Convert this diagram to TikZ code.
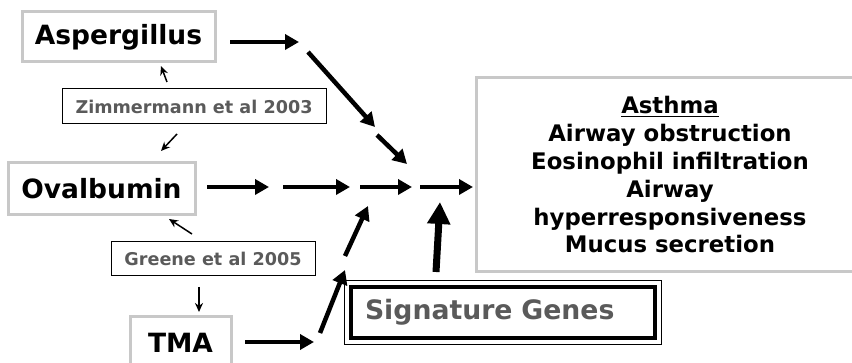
\documentclass[tikz,border=0pt]{standalone}
\usepackage{fontspec}
\setmainfont{DejaVu Sans}
\usetikzlibrary{arrows.meta}
\definecolor{boxgray}{HTML}{C8C8C8}
\definecolor{txtgray}{HTML}{5A5A5A}
\tikzset{
  agent/.style={draw=boxgray,line width=3pt,inner sep=0pt,font=\fontsize{26.5}{30}\selectfont\bfseries},
  refbox/.style={draw=black,line width=1pt,inner sep=0pt,text=txtgray,font=\fontsize{17.6}{20}\selectfont\bfseries},
  bigarrow/.style={line width=4.5pt,-{Triangle[length=14pt,width=15pt]}},
  hugearrow/.style={line width=7pt,-{Triangle[length=22pt,width=22pt]}},
  thinarrow/.style={line width=1.5pt,-{Stealth[length=9pt,width=8pt]}}
}
\begin{document}
\begin{tikzpicture}[x=1pt,y=-1pt]
	\useasboundingbox (0,0) rectangle (852,363);
	% sources
	\node[agent,minimum width=193,minimum height=50] (asp) at (118.5,37) {Aspergillus};
	\node[agent,minimum width=187,minimum height=52] (ova) at (101.5,189) {Ovalbumin};
	\node[agent,minimum width=101,minimum height=52] (tma) at (180.5,343) {TMA};
	% references
	\node[refbox,minimum width=264,minimum height=35] (zim) at (194,106.5) {Zimmermann et al 2003};
	\node[refbox,minimum width=204,minimum height=34] (gre) at (213,259) {Greene et al 2005};
	% outcome
	\node[draw=boxgray,line width=3pt,minimum width=388,minimum height=194,align=center,
		font=\fontsize{22.8}{27.8}\selectfont\bfseries] (asthma) at (670,175)
		{\underline{Asthma}\\Airway obstruction\\Eosinophil infiltration\\Airway\\hyperresponsiveness\\Mucus secretion};
	\node[draw=black,line width=4pt,text width=276pt,align=left,inner xsep=14pt,inner ysep=0pt,
		minimum height=51,text=txtgray,font=\fontsize{26.7}{30}\selectfont\bfseries] (sig) at (503,312.5)
		{Signature Genes};
	\draw[line width=1pt] ([shift={(-4.5,-4.5)}]sig.north west) rectangle ([shift={(4.5,4.5)}]sig.south east);
	% small arrows
	\coordinate (z1) at (167,82);  \coordinate (z2) at (161,66);
	\coordinate (z3) at (177,134); \coordinate (z4) at (161,151);
	\coordinate (g1) at (192,234); \coordinate (g2) at (169,219);
	\coordinate (g3) at (199,287); \coordinate (g4) at (199,312);
	\draw[thinarrow] (z1)--(z2);
	\draw[thinarrow] (z3)--(z4);
	\draw[thinarrow] (g1)--(g2);
	\draw[thinarrow] (g3)--(g4);
	% aspergillus path
	\coordinate (a1) at (230,42);  \coordinate (a2) at (299,42);
	\coordinate (a3) at (308,52);  \coordinate (a4) at (375,127);
	\coordinate (a5) at (377,135); \coordinate (a6) at (407,164);
	\draw[bigarrow] (a1)--(a2);
	\draw[bigarrow] (a3)--(a4);
	\draw[bigarrow] (a5)--(a6);
	% ovalbumin path
	\coordinate (o1) at (207,187); \coordinate (o2) at (269,187);
	\coordinate (o3) at (283,187); \coordinate (o4) at (350,187);
	\coordinate (o5) at (360,187); \coordinate (o6) at (412,187);
	\coordinate (o7) at (420,187); \coordinate (o8) at (473,187);
	\draw[bigarrow] (o1)--(o2);
	\draw[bigarrow] (o3)--(o4);
	\draw[bigarrow] (o5)--(o6);
	\draw[bigarrow] (o7)--(o8);
	% TMA path
	\coordinate (t1) at (245,342); \coordinate (t2) at (314,342);
	\coordinate (t3) at (320,333); \coordinate (t4) at (345,270);
	\coordinate (t5) at (345,256); \coordinate (t6) at (368,206);
	\draw[bigarrow] (t1)--(t2);
	\draw[bigarrow] (t3)--(t4);
	\draw[bigarrow] (t5)--(t6);
	% signature genes
	\coordinate (s1) at (436,272); \coordinate (s2) at (440,202);
	\draw[hugearrow] (s1)--(s2);
\end{tikzpicture}
\end{document}
